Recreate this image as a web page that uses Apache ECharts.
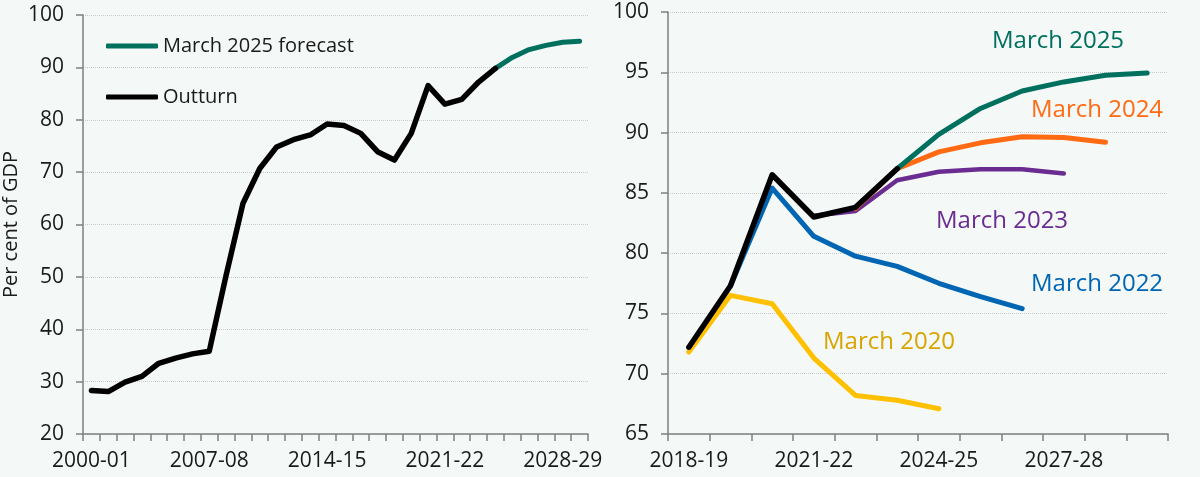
<!DOCTYPE html>
<html>
<head>
<meta charset="utf-8">
<script src="https://cdn.jsdelivr.net/npm/echarts@6/dist/echarts.min.js"></script>
<style>
html,body{margin:0;padding:0;background:#f4f8f7;}
#c{width:1200px;height:477px;}
</style>
</head>
<body>
<div id="c"></div>
<script>
// ---- Data ----
const leftYears = ['2000-01','2001-02','2002-03','2003-04','2004-05','2005-06','2006-07','2007-08','2008-09','2009-10',
  '2010-11','2011-12','2012-13','2013-14','2014-15','2015-16','2016-17','2017-18','2018-19','2019-20',
  '2020-21','2021-22','2022-23','2023-24','2024-25','2025-26','2026-27','2027-28','2028-29','2029-30'];
const outturnLong = [28.3,28.1,29.9,31.0,33.5,34.5,35.3,35.8,50.3,64.0,
  70.7,74.8,76.2,77.1,79.2,78.9,77.4,73.9,72.3,77.4,
  86.5,83.0,83.9,87.2,89.8,null,null,null,null,null];
const forecastLong = [null,null,null,null,null,null,null,null,null,null,
  null,null,null,null,null,null,null,null,null,null,
  null,null,null,null,89.8,91.9,93.4,94.2,94.8,95.0];

const rightYears = ['2018-19','2019-20','2020-21','2021-22','2022-23','2023-24','2024-25','2025-26','2026-27','2027-28','2028-29','2029-30'];
const march2020 = [71.8,76.5,75.8,71.3,68.2,67.8,67.1,null,null,null,null,null];
const march2022 = [null,77.3,85.4,81.4,79.75,78.9,77.5,76.4,75.4,null,null,null];
const march2023 = [null,null,null,83.1,83.5,86.05,86.75,86.95,86.95,86.6,null,null];
const march2024 = [null,null,null,null,83.7,87.0,88.4,89.15,89.65,89.6,89.2,null];
const march2025 = [null,null,null,null,null,87.0,89.85,92.0,93.45,94.2,94.75,94.95];
const outturnShort = [72.2,77.3,86.5,83.0,83.8,87.0,null,null,null,null,null,null];

const FONT = '"Open Sans", "Noto Sans", sans-serif';
const C = {green:'#00705e', orange:'#ff6a13', purple:'#6a2c91', blue:'#0066b3', yellow:'#ffc000', yellowText:'#d9a400', black:'#000000'};

const chart = echarts.init(document.getElementById('c'), null, {renderer:'canvas'});

function xAx(gridIndex, data, labelInterval){
  return {
    type:'category', gridIndex, data, boundaryGap:true,
    axisLine:{lineStyle:{color:'#7f7f7f', width:1.5}},
    axisTick:{show:true, interval:0, length:7, lineStyle:{color:'#7f7f7f', width:1.5}},
    axisLabel:{interval:labelInterval, color:'#1a1a1a', fontSize:21, fontFamily:FONT, margin:17},
    splitLine:{show:false}
  };
}
function yAx(gridIndex, min, max, interval, margin, extra){
  return Object.assign({
    type:'value', gridIndex, min, max, interval,
    axisLine:{show:true, lineStyle:{color:'#7f7f7f', width:1.5}},
    axisTick:{show:true, length:7, lineStyle:{color:'#7f7f7f', width:1.5}},
    axisLabel:{color:'#1a1a1a', fontSize:21, fontFamily:FONT, margin:margin},
    splitLine:{show:true, lineStyle:{color:'#c9cccb', type:'dotted', width:1}}
  }, extra||{});
}
function line(name, data, color, width, xi, z){
  return {name, type:'line', xAxisIndex:xi, yAxisIndex:xi, data, symbol:'none', connectNulls:false,
    lineStyle:{color, width, cap:'round', join:'round'}, itemStyle:{color}, z:z||2, silent:true, animation:false};
}

const option = {
  backgroundColor:'#f4f8f7',
  animation:false,
  grid:[
    {left:79, top:15, width:509, height:419},
    {left:668, top:12, width:500, height:422}
  ],
  xAxis:[ xAx(0, leftYears, 6), xAx(1, rightYears, 2) ],
  yAxis:[
    yAx(0, 20, 100, 10, 19, {name:'Per cent of GDP', nameLocation:'middle', nameGap:62, nameRotate:90,
      nameTextStyle:{color:'#1a1a1a', fontSize:20, fontFamily:FONT}}),
    yAx(1, 65, 100, 5, 19)
  ],
  legend:{
    data:['March 2025 forecast','Outturn'],
    orient:'vertical', left:101, top:31, itemGap:31, itemWidth:52, itemHeight:5, icon:'roundRect',
    textStyle:{color:'#1a1a1a', fontSize:20, fontFamily:FONT}, selectedMode:false
  },
  series:[
    line('March 2025 forecast', forecastLong, C.green, 5, 0, 2),
    line('Outturn', outturnLong, C.black, 5.5, 0, 3),
    line('March 2020', march2020, C.yellow, 5, 1, 2),
    line('March 2022', march2022, C.blue, 5, 1, 3),
    line('March 2023', march2023, C.purple, 4.5, 1, 4),
    line('March 2024', march2024, C.orange, 5, 1, 5),
    line('March 2025', march2025, C.green, 5, 1, 6),
    line('Outturn (recent)', outturnShort, C.black, 5.5, 1, 7)
  ],
  graphic:[
    {type:'text', left:992, top:29, style:{text:'March 2025', fill:C.green, font:'24px '+FONT}},
    {type:'text', left:1031, top:98, style:{text:'March 2024', fill:C.orange, font:'24px '+FONT}},
    {type:'text', left:936, top:209, style:{text:'March 2023', fill:C.purple, font:'24px '+FONT}},
    {type:'text', left:1031, top:272, style:{text:'March 2022', fill:C.blue, font:'24px '+FONT}},
    {type:'text', left:823, top:330, style:{text:'March 2020', fill:C.yellowText, font:'24px '+FONT}}
  ]
};
chart.setOption(option);
</script>
</body>
</html>
